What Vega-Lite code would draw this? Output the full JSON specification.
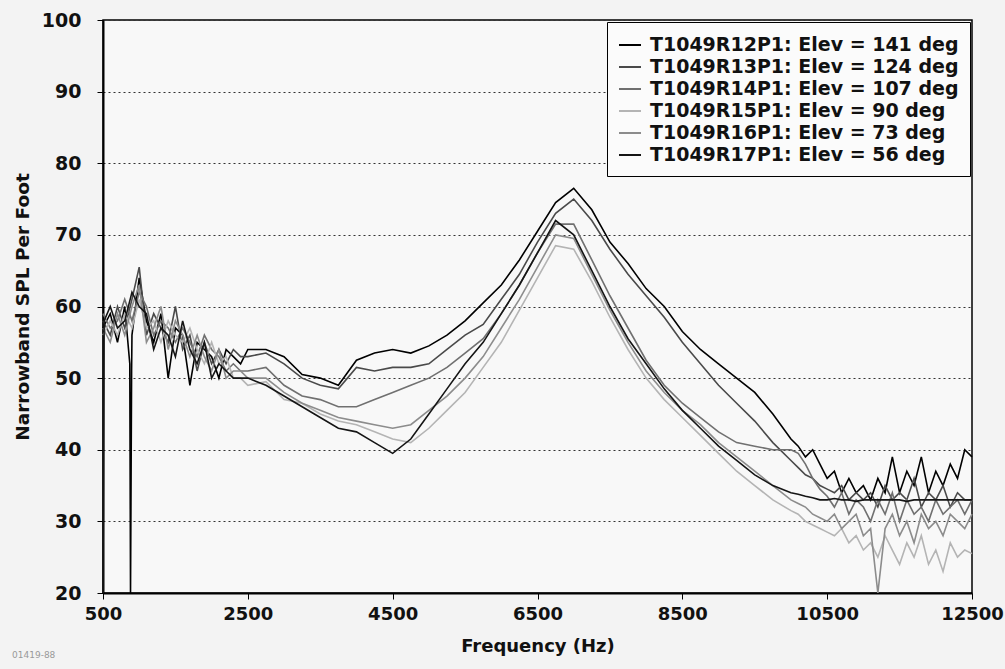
{
  "$schema": "https://vega.github.io/schema/vega-lite/v6.json",
  "width": 869,
  "height": 573,
  "autosize": {"type": "none"},
  "padding": {"left": 103, "top": 20, "right": 33, "bottom": 76},
  "background": "#f3f3f3",
  "title": {"text": "01419-88", "orient": "bottom", "anchor": "start", "frame": "group", "fontSize": 9, "fontWeight": "normal", "color": "#999999", "dx": -91, "offset": -4, "font": "DejaVu Sans"},
  "data": {"values": [
    {"f":500,"r12":57,"r13":58,"r14":59,"r15":56,"r16":57,"r17":20},
    {"f":515,"r17":58},
    {"f":600,"r12":59,"r13":56,"r14":57,"r15":58,"r16":55,"r17":60},
    {"f":700,"r12":55,"r13":60,"r14":58,"r15":56,"r16":59,"r17":57},
    {"f":800,"r12":60,"r13":57,"r14":61,"r15":59,"r16":56,"r17":58},
    {"f":870,"r12":52},
    {"f":880,"r12":20},
    {"f":895,"r12":51},
    {"f":900,"r12":56,"r13":61,"r14":58,"r15":57,"r16":60,"r17":62},
    {"f":1000,"r12":64,"r13":65.5,"r14":62,"r15":61,"r16":63,"r17":60},
    {"f":1100,"r12":58,"r13":56,"r14":60,"r15":57,"r16":55,"r17":59},
    {"f":1200,"r12":55,"r13":59,"r14":56,"r15":58,"r16":57,"r17":54},
    {"f":1300,"r12":59,"r13":57,"r14":58,"r15":55,"r16":60,"r17":57},
    {"f":1400,"r12":50,"r13":55,"r14":57,"r15":58,"r16":54,"r17":56},
    {"f":1500,"r12":57,"r13":60,"r14":55,"r15":56,"r16":58,"r17":53},
    {"f":1600,"r12":56,"r13":54,"r14":57,"r15":55,"r16":56,"r17":58},
    {"f":1700,"r12":49,"r13":56,"r14":55,"r15":57,"r16":53,"r17":54},
    {"f":1800,"r12":55,"r13":51,"r14":53,"r15":54,"r16":56,"r17":52},
    {"f":1900,"r12":54,"r13":55,"r14":56,"r15":52,"r16":53,"r17":55},
    {"f":2000,"r12":53,"r13":52,"r14":54,"r15":55,"r16":51,"r17":50},
    {"f":2100,"r12":50,"r13":54,"r14":53,"r15":52,"r16":54,"r17":52},
    {"f":2200,"r12":54,"r13":52,"r14":51,"r15":53,"r16":50,"r17":51},
    {"f":2300,"r12":53,"r13":54,"r14":52,"r15":50,"r16":51,"r17":50},
    {"f":2400,"r12":52,"r13":53,"r14":51,"r15":50,"r16":51,"r17":50},
    {"f":2500,"r12":54,"r13":53,"r14":51,"r15":49,"r16":50,"r17":50},
    {"f":2750,"r12":54,"r13":53.5,"r14":51.5,"r15":49.5,"r16":50,"r17":49},
    {"f":3000,"r12":53,"r13":52,"r14":49,"r15":47,"r16":48,"r17":47.5},
    {"f":3250,"r12":50.5,"r13":50,"r14":47.5,"r15":46.5,"r16":46.5,"r17":46},
    {"f":3500,"r12":50,"r13":49,"r14":47,"r15":45,"r16":45.5,"r17":44.5},
    {"f":3750,"r12":49,"r13":48.5,"r14":46,"r15":44,"r16":44.5,"r17":43},
    {"f":4000,"r12":52.5,"r13":51.5,"r14":46,"r15":43.5,"r16":44,"r17":42.5},
    {"f":4250,"r12":53.5,"r13":51,"r14":47,"r15":42.5,"r16":43.5,"r17":41},
    {"f":4500,"r12":54,"r13":51.5,"r14":48,"r15":41.5,"r16":43,"r17":39.5},
    {"f":4750,"r12":53.5,"r13":51.5,"r14":49,"r15":41,"r16":43.5,"r17":41.5},
    {"f":5000,"r12":54.5,"r13":52,"r14":50,"r15":43,"r16":45.5,"r17":45},
    {"f":5250,"r12":56,"r13":54,"r14":51.5,"r15":45.5,"r16":47.5,"r17":48.5},
    {"f":5500,"r12":58,"r13":56,"r14":53.5,"r15":48,"r16":50,"r17":52},
    {"f":5750,"r12":60.5,"r13":57.5,"r14":55.5,"r15":51.5,"r16":53,"r17":55},
    {"f":6000,"r12":63,"r13":61,"r14":59,"r15":55,"r16":57,"r17":59},
    {"f":6250,"r12":66.5,"r13":64.5,"r14":63,"r15":59.5,"r16":61,"r17":63},
    {"f":6500,"r12":70.5,"r13":69,"r14":67.5,"r15":64,"r16":65.5,"r17":67.5},
    {"f":6750,"r12":74.5,"r13":73,"r14":71.5,"r15":68.5,"r16":70,"r17":72},
    {"f":7000,"r12":76.5,"r13":75,"r14":71.5,"r15":68,"r16":69.5,"r17":70},
    {"f":7250,"r12":73.5,"r13":72,"r14":66.5,"r15":63.5,"r16":64.5,"r17":65},
    {"f":7500,"r12":69,"r13":68,"r14":61.5,"r15":58.5,"r16":59.5,"r17":60},
    {"f":7750,"r12":66,"r13":64.5,"r14":57,"r15":54,"r16":55,"r17":55.5},
    {"f":8000,"r12":62.5,"r13":61.5,"r14":52.5,"r15":50,"r16":51,"r17":52},
    {"f":8250,"r12":60,"r13":58.5,"r14":49,"r15":47,"r16":48,"r17":48.5},
    {"f":8500,"r12":56.5,"r13":55,"r14":46.5,"r15":44.5,"r16":45.5,"r17":45.5},
    {"f":8750,"r12":54,"r13":52,"r14":44.5,"r15":42,"r16":43.5,"r17":43},
    {"f":9000,"r12":52,"r13":49,"r14":42.5,"r15":39.5,"r16":41,"r17":40.5},
    {"f":9250,"r12":50,"r13":46.5,"r14":41,"r15":37,"r16":39,"r17":38.5},
    {"f":9500,"r12":48,"r13":44,"r14":40.5,"r15":35,"r16":37,"r17":36.5},
    {"f":9750,"r12":45,"r13":41,"r14":40,"r15":33,"r16":35,"r17":35},
    {"f":10000,"r12":41.5,"r13":38.5,"r14":40,"r15":31.5,"r16":33,"r17":34},
    {"f":10100,"r12":40.5,"r13":37.5,"r14":39.5,"r15":31,"r16":32.5,"r17":33.8},
    {"f":10200,"r12":39,"r13":36.5,"r14":38,"r15":30,"r16":32,"r17":33.5},
    {"f":10300,"r12":40,"r13":36,"r14":36,"r15":29.5,"r16":31,"r17":33.3},
    {"f":10400,"r12":38,"r13":35,"r14":34.5,"r15":29,"r16":30.5,"r17":33},
    {"f":10500,"r12":36,"r13":34.5,"r14":33.5,"r15":28.5,"r16":30,"r17":33},
    {"f":10600,"r12":37,"r13":34,"r14":32,"r15":28,"r16":31,"r17":33.2},
    {"f":10700,"r12":34,"r13":35,"r14":34,"r15":29,"r16":29,"r17":33},
    {"f":10800,"r12":36,"r13":33,"r14":31,"r15":27,"r16":30,"r17":33},
    {"f":10900,"r12":34,"r13":34,"r14":33,"r15":28,"r16":31,"r17":32.8},
    {"f":11000,"r12":35,"r13":33,"r14":32,"r15":26,"r16":28,"r17":33},
    {"f":11100,"r12":33,"r13":34,"r14":30,"r15":27,"r16":29,"r17":33},
    {"f":11200,"r12":36,"r13":32,"r14":33,"r15":25,"r16":20,"r17":33},
    {"f":11300,"r12":34,"r13":35,"r14":31,"r15":28,"r16":29,"r17":33},
    {"f":11400,"r12":39,"r13":33,"r14":34,"r15":26,"r16":31,"r17":33},
    {"f":11500,"r12":34,"r13":34,"r14":30,"r15":24,"r16":28,"r17":33},
    {"f":11600,"r12":37,"r13":33,"r14":33,"r15":27,"r16":30,"r17":32.8},
    {"f":11700,"r12":35,"r13":36,"r14":31,"r15":25,"r16":27,"r17":33},
    {"f":11800,"r12":39,"r13":32,"r14":32,"r15":28,"r16":31,"r17":33},
    {"f":11900,"r12":34,"r13":34,"r14":30,"r15":24,"r16":29,"r17":33},
    {"f":12000,"r12":37,"r13":33,"r14":33,"r15":26,"r16":30,"r17":33},
    {"f":12100,"r12":35,"r13":35,"r14":31,"r15":23,"r16":28,"r17":33},
    {"f":12200,"r12":38,"r13":32,"r14":32,"r15":27,"r16":31,"r17":33},
    {"f":12300,"r12":36,"r13":34,"r14":33,"r15":25,"r16":30,"r17":33},
    {"f":12400,"r12":40,"r13":33,"r14":31,"r15":26,"r16":29,"r17":33},
    {"f":12500,"r12":39,"r13":33,"r14":33,"r15":25.5,"r16":31,"r17":33}
  ]},
  "transform": [
    {"fold": ["r12","r13","r14","r15","r16","r17"], "as": ["k","v"]},
    {"filter": "isValid(datum.v)"}
  ],
  "mark": {"type": "line", "strokeWidth": 1.6, "interpolate": "linear"},
  "encoding": {
    "x": {"field": "f", "type": "quantitative", "scale": {"domain": [500, 12500], "nice": false, "zero": false},
      "axis": {"title": "Frequency (Hz)", "values": [500,2500,4500,6500,8500,10500,12500], "format": "d", "grid": false, "labelFlush": false, "labelPadding": 6, "titlePadding": 14, "titleFontSize": 18}},
    "y": {"field": "v", "type": "quantitative", "scale": {"domain": [20, 100], "nice": false, "zero": false},
      "axis": {"title": "Narrowband SPL Per Foot", "values": [20,30,40,50,60,70,80,90,100], "grid": true, "gridDash": [2,3], "gridColor": "#333333", "gridWidth": 1, "labelPadding": 16, "titlePadding": 9, "titleFontSize": 18.5, "labelFontSize": 19}},
    "color": {"field": "k", "type": "nominal",
      "scale": {"domain": ["r12","r13","r14","r15","r16","r17"], "range": ["#000000","#4a4a4a","#707070","#b4b4b4","#8c8c8c","#151515"]},
      "legend": {"labelExpr": "datum.value == 'r12' ? 'T1049R12P1: Elev = 141 deg' : datum.value == 'r13' ? 'T1049R13P1: Elev = 124 deg' : datum.value == 'r14' ? 'T1049R14P1: Elev = 107 deg' : datum.value == 'r15' ? 'T1049R15P1: Elev = 90 deg' : datum.value == 'r16' ? 'T1049R16P1: Elev = 73 deg' : 'T1049R17P1: Elev = 56 deg'"}}
  },
  "config": {
    "font": "DejaVu Sans",
    "view": {"stroke": "#000000", "strokeWidth": 1.5, "fill": "#f8f8f8"},
    "axis": {"domainColor": "#000000", "domainWidth": 2, "tickColor": "#000000", "tickSize": 6, "labelFontSize": 18, "labelFontWeight": "bold", "labelColor": "#111111", "titleFontWeight": "bold", "titleColor": "#111111", "labelFont": "DejaVu Sans", "titleFont": "DejaVu Sans"},
    "legend": {"orient": "top-right", "offset": 2, "title": null, "fillColor": "#fbfbfb", "strokeColor": "#000000", "padding": 11, "symbolType": "stroke", "symbolSize": 484, "symbolStrokeWidth": 2, "labelFontSize": 19, "labelFontWeight": "bold", "labelColor": "#111111", "labelFont": "DejaVu Sans", "labelOffset": 8, "rowPadding": 0, "labelLimit": 400}
  }
}
